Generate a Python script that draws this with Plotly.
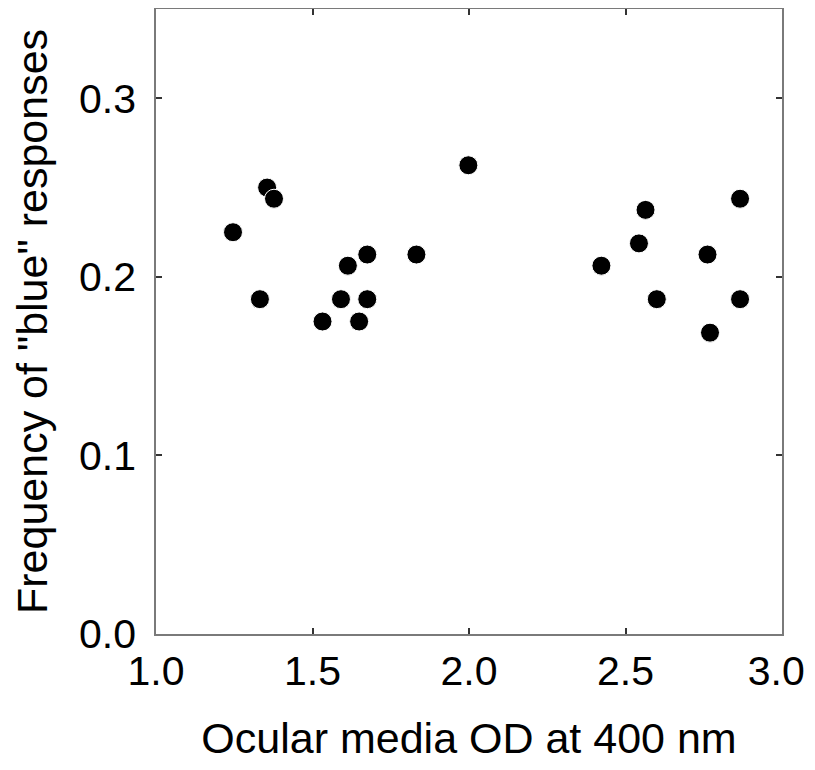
import plotly.graph_objects as go

# Ocular media optical density at 400 nm
od_400 = [1.246, 1.332, 1.355, 1.377, 1.532, 1.591, 1.613, 1.649, 1.675, 1.675,
          1.832, 1.998, 2.423, 2.543, 2.564, 2.600, 2.762, 2.770, 2.866, 2.866]
# Frequency of "blue" responses
blue_freq = [0.225, 0.1875, 0.25, 0.24375, 0.175, 0.1875, 0.20625, 0.175, 0.2125, 0.1875,
             0.2125, 0.2625, 0.20625, 0.21875, 0.2375, 0.1875, 0.2125, 0.16875, 0.24375, 0.1875]

x_ticks = [1.0, 1.5, 2.0, 2.5, 3.0]
x_tick_labels = ["1.0", "1.5", "2.0", "2.5", "3.0\u00a0"]
y_ticks = [0.0, 0.1, 0.2, 0.3]
y_tick_labels = ["0.0", "0.1", "0.2", "0.3"]

FONT = "Liberation Sans, Arial, Helvetica, sans-serif"

fig = go.Figure(
    go.Scatter(
        x=od_400, y=blue_freq, mode="markers",
        marker=dict(size=19, color="black", line=dict(color="white", width=1)),
        showlegend=False,
    )
)

axis_common = dict(
    showgrid=False, zeroline=False, showline=True, linecolor="#7a7a7a", linewidth=1.5,
    mirror="ticks", ticks="inside", ticklen=6, tickwidth=1.5, tickcolor="#333333",
    tickfont=dict(family=FONT, size=41, color="black"),
    ticklabeloverflow="allow", automargin=False,
)

fig.update_xaxes(
    range=[1.0, 3.0], tickvals=x_ticks, ticktext=x_tick_labels,
    title=dict(text="Ocular media OD at 400 nm", font=dict(family=FONT, size=43, color="black"), standoff=44),
    ticklabelstandoff=0,
    **axis_common,
)
fig.update_yaxes(
    range=[0.0, 0.35], tickvals=y_ticks, ticktext=y_tick_labels,
    title=dict(text='Frequency of "blue" responses', font=dict(family=FONT, size=43, color="black"), standoff=22),
    ticklabelstandoff=10,
    **axis_common,
)

fig.update_layout(
    width=807, height=754,
    margin=dict(l=148, r=33, t=1, b=128),
    plot_bgcolor="white", paper_bgcolor="white",
    font=dict(family=FONT, color="black"),
)

fig.write_html("out.html")
